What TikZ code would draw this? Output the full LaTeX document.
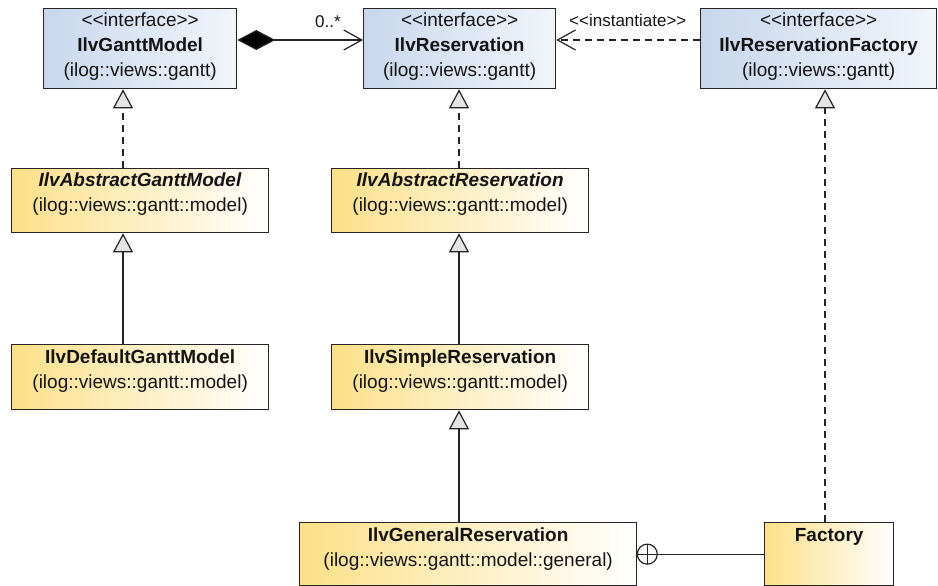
\documentclass[tikz,border=0pt]{standalone}
\usepackage{fontspec}
\setmainfont{Liberation Sans}
\usetikzlibrary{arrows.meta}

\definecolor{ifleft}{RGB}{200,215,237}
\definecolor{ifright}{RGB}{241,245,251}
\definecolor{clleft}{RGB}{252,224,136}
\definecolor{clright}{RGB}{255,255,255}
\definecolor{edgecol}{RGB}{36,36,36}
\definecolor{trifill}{RGB}{228,228,228}
\definecolor{txt}{RGB}{20,20,20}

% stereotype brackets (kerns keep the font mapping from turning them into guillemets)
\newcommand\sopen{<\kern0pt<}
\newcommand\sclose{>\kern0pt>}
% box content: width, height, first baseline offset, lines
\newcommand\boxtext[4]{\parbox[t][#2][t]{#1}{\centering\fontsize{19}{25}\selectfont\rule{0pt}{#3}#4}}

\tikzset{
  umlbox/.style={draw=edgecol, line width=1.3pt, inner sep=0pt, anchor=north west, text=txt},
  iface/.style={umlbox, left color=ifleft, right color=ifright},
  cls/.style={umlbox, left color=clleft, right color=clright},
  conn/.style={draw=edgecol, line width=1.2pt},
  realize/.style={conn, dash pattern=on 7pt off 5pt, -{Triangle[length=19pt,width=20pt,fill=trifill]}},
  general/.style={conn, -{Triangle[length=19pt,width=20pt,fill=trifill]}},
  depend/.style={conn, dash pattern=on 7pt off 5pt, -{Straight Barb[length=18pt,width=20pt]}},
  compose/.style={conn, {Diamond[length=38pt,width=20pt,fill=black]}-{Straight Barb[length=18pt,width=20pt]}},
  edgelabel/.style={anchor=base west, inner sep=0pt, text=txt, font=\fontsize{17}{20}\selectfont}
}

\begin{document}
\begin{tikzpicture}[x=1pt,y=1pt]
  \useasboundingbox (0,0) rectangle (938,-586);

  % column and row guides for the connectors
  \coordinate (c1) at (123,0);
  \coordinate (c2) at (459,0);
  \coordinate (c3) at (825,0);
  \coordinate (rowA) at (0,-40);

  % interfaces
  \node[iface] (ganttm) at (43,-8)
    {\boxtext{193pt}{80pt}{17.5pt}{\sopen interface\sclose\\\textbf{IlvGanttModel}\\(ilog::views::gantt)}};
  \node[iface] (res) at (363,-8)
    {\boxtext{192pt}{80pt}{17.5pt}{\sopen interface\sclose\\\textbf{IlvReservation}\\(ilog::views::gantt)}};
  \node[iface] (rfac) at (700,-8)
    {\boxtext{236pt}{80pt}{17.5pt}{\sopen interface\sclose\\\textbf{IlvReservationFactory}\\(ilog::views::gantt)}};

  % abstract classes
  \node[cls] (absg) at (11,-168)
    {\boxtext{257pt}{64pt}{18pt}{\textbf{\textit{IlvAbstractGanttModel}}\\(ilog::views::gantt::model)}};
  \node[cls] (absr) at (331,-168)
    {\boxtext{257pt}{64pt}{18pt}{\textbf{\textit{IlvAbstractReservation}}\\(ilog::views::gantt::model)}};

  % concrete classes
  \node[cls] (defg) at (11,-344)
    {\boxtext{257pt}{65pt}{19pt}{\textbf{IlvDefaultGanttModel}\\(ilog::views::gantt::model)}};
  \node[cls] (simr) at (331,-344)
    {\boxtext{257pt}{65pt}{19pt}{\textbf{IlvSimpleReservation}\\(ilog::views::gantt::model)}};
  \node[cls] (genr) at (299,-522)
    {\boxtext{337pt}{63pt}{19pt}{\textbf{IlvGeneralReservation}\\(ilog::views::gantt::model::general)}};
  \node[cls] (fact) at (764,-522)
    {\boxtext{129pt}{63pt}{19pt}{\textbf{Factory}}};

  % composition and dependency
  \draw[compose] (ganttm.east |- rowA) -- (res.west |- rowA);
  \node[edgelabel] (mult) at (315,-28) {0..*};
  \draw[depend] (rfac.west |- rowA) -- (res.east |- rowA);
  \node[edgelabel] (inst) at (569,-27) {\sopen instantiate\sclose};

  % realizations
  \draw[realize] (absg.north -| c1) -- (ganttm.south -| c1);
  \draw[realize] (absr.north -| c2) -- (res.south -| c2);
  \draw[realize] (fact.north -| c3) -- (rfac.south -| c3);

  % generalizations
  \draw[general] (defg.north -| c1) -- (absg.south -| c1);
  \draw[general] (simr.north -| c2) -- (absr.south -| c2);
  \draw[general] (genr.north -| c2) -- (simr.south -| c2);

  % nesting: Factory is an inner class of IlvGeneralReservation
  \draw[conn] (fact.west) -- ([xshift=20pt]genr.east);
  \draw[conn] ([xshift=10pt]genr.east) circle (10pt);
  \draw[conn] ([xshift=10pt,yshift=10pt]genr.east) -- ([xshift=10pt,yshift=-10pt]genr.east);
  \draw[conn] (genr.east) -- ([xshift=20pt]genr.east);
\end{tikzpicture}
\end{document}
